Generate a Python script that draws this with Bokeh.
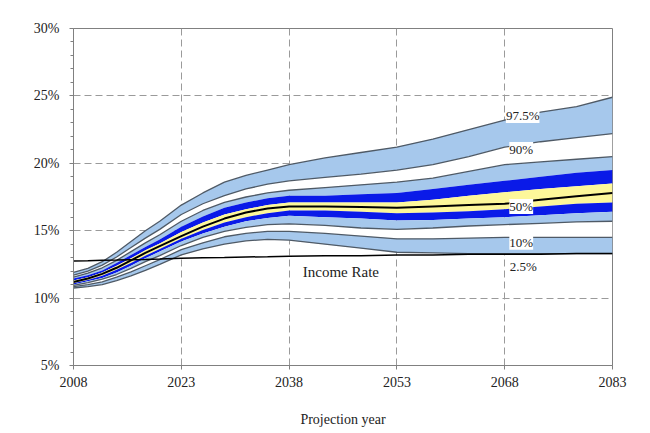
from bokeh.plotting import figure
from bokeh.models import Range1d, FixedTicker, Label
from bokeh.embed import file_html
from bokeh.resources import INLINE

# ---- data (percent of taxable payroll) ----
years = [2008, 2010, 2012, 2014, 2016, 2018, 2020, 2023, 2026, 2029, 2032, 2035, 2038,
         2043, 2048, 2053, 2058, 2063, 2068, 2073, 2078, 2083]
p975 = [11.9, 12.2, 12.7, 13.4, 14.2, 15.0, 15.7, 16.9, 17.8, 18.6, 19.1, 19.5, 19.9,
        20.4, 20.8, 21.2, 21.8, 22.5, 23.2, 23.8, 24.2, 24.9]
p90 = [11.7, 12.0, 12.45, 13.05, 13.75, 14.45, 15.1, 16.2, 17.0, 17.6, 18.1, 18.45, 18.7,
       18.95, 19.2, 19.5, 19.9, 20.5, 21.2, 21.6, 21.9, 22.2]
p80 = [11.55, 11.85, 12.25, 12.8, 13.45, 14.1, 14.7, 15.7, 16.5, 17.1, 17.5, 17.8, 18.0,
       18.2, 18.4, 18.6, 18.9, 19.4, 19.9, 20.1, 20.3, 20.5]
p70 = [11.45, 11.7, 12.05, 12.6, 13.2, 13.8, 14.35, 15.3, 16.05, 16.7, 17.1, 17.4, 17.6,
       17.6, 17.7, 17.8, 18.1, 18.4, 18.7, 19.0, 19.3, 19.5]
p60 = [11.3, 11.55, 11.9, 12.4, 12.95, 13.55, 14.05, 14.9, 15.6, 16.2, 16.6, 16.9, 17.1,
       17.1, 17.1, 17.1, 17.3, 17.6, 17.85, 18.1, 18.3, 18.5]
p50 = [11.2, 11.45, 11.8, 12.25, 12.8, 13.35, 13.85, 14.6, 15.3, 15.9, 16.35, 16.65, 16.8,
       16.8, 16.75, 16.7, 16.8, 16.9, 17.0, 17.3, 17.55, 17.8]
p40 = [11.1, 11.35, 11.65, 12.1, 12.6, 13.15, 13.65, 14.4, 15.05, 15.6, 16.0, 16.3, 16.5,
       16.5, 16.4, 16.3, 16.35, 16.45, 16.6, 16.8, 17.0, 17.1]
p30 = [11.0, 11.25, 11.5, 11.9, 12.4, 12.95, 13.45, 14.2, 14.8, 15.3, 15.7, 15.95, 16.1,
       16.0, 15.9, 15.75, 15.8, 15.9, 16.0, 16.15, 16.3, 16.4]
p20 = [10.95, 11.15, 11.4, 11.75, 12.2, 12.7, 13.15, 13.9, 14.5, 14.95, 15.25, 15.45, 15.5,
       15.4, 15.2, 15.1, 15.2, 15.35, 15.45, 15.55, 15.65, 15.7]
p10 = [10.85, 11.0, 11.2, 11.55, 11.95, 12.4, 12.85, 13.6, 14.1, 14.55, 14.8, 14.95, 14.95,
       14.8, 14.6, 14.4, 14.4, 14.45, 14.5, 14.5, 14.5, 14.5]
p025 = [10.75, 10.85, 11.0, 11.3, 11.65, 12.05, 12.5, 13.2, 13.65, 14.0, 14.25, 14.35, 14.3,
        14.0, 13.7, 13.4, 13.35, 13.3, 13.3, 13.3, 13.3, 13.3]
income_rate = [12.75, 12.77, 12.8, 12.82, 12.85, 12.87, 12.9, 12.95, 13.0, 13.02, 13.05, 13.07, 13.1,
               13.15, 13.15, 13.2, 13.2, 13.25, 13.25, 13.25, 13.3, 13.3]

x_ticks = [2008, 2023, 2038, 2053, 2068, 2083]
y_ticks = [5, 10, 15, 20, 25, 30]
y_tick_labels = ["5%", "10%", "15%", "20%", "25%", "30%"]
band_labels = ["97.5%", "90%", "50%", "10%", "2.5%"]

# ---- styling ----
FONT = "Liberation Serif"
LIGHT = "#a6c8ec"
BLUE = "#0a1ae8"
YELLOW = "#fdf79a"
EDGE = "#4f5a66"

p = figure(width=645, height=430, output_backend="svg", toolbar_location=None,
           x_range=Range1d(2008, 2083), y_range=Range1d(5, 30),
           min_border_left=73, min_border_right=33, min_border_top=28, min_border_bottom=65)
p.background_fill_color = "white"
p.border_fill_color = "white"
p.outline_line_color = "#808080"
p.outline_line_width = 1

# bands
p.varea(x=years, y1=p90, y2=p975, fill_color=LIGHT)
p.varea(x=years, y1=p80, y2=p90, fill_color="white")
p.varea(x=years, y1=p70, y2=p80, fill_color=LIGHT)
p.varea(x=years, y1=p60, y2=p70, fill_color=BLUE)
p.varea(x=years, y1=p40, y2=p60, fill_color=YELLOW)
p.varea(x=years, y1=p30, y2=p40, fill_color=BLUE)
p.varea(x=years, y1=p20, y2=p30, fill_color=LIGHT)
p.varea(x=years, y1=p10, y2=p20, fill_color="white")
p.varea(x=years, y1=p025, y2=p10, fill_color=LIGHT)

for s in (p975, p90, p80, p20, p10, p025):
    p.line(years, s, line_color=EDGE, line_width=1.3)
p.line(years, p50, line_color="black", line_width=2)
p.line(years, income_rate, line_color="black", line_width=1.5)

# axes
xt = FixedTicker(ticks=x_ticks)
yt = FixedTicker(ticks=y_ticks, minor_ticks=[v for v in range(5, 31) if v % 5 != 0])
p.xaxis.ticker = xt
p.yaxis.ticker = yt
p.xgrid.ticker = xt
p.ygrid.ticker = FixedTicker(ticks=y_ticks)
p.yaxis.major_label_overrides = {t: l for t, l in zip(y_ticks, y_tick_labels)}
p.xaxis.major_label_overrides = {t: str(t) for t in x_ticks}

for g in (p.xgrid, p.ygrid):
    g.grid_line_color = "#9a9a9a"
    g.grid_line_dash = "7 4"
    g.grid_line_width = 1

for ax in (p.xaxis, p.yaxis):
    ax.axis_line_color = "#808080"
    ax.major_tick_line_color = "#808080"
    ax.minor_tick_line_color = "#808080"
    ax.major_tick_out = 4
    ax.major_tick_in = 0
    ax.minor_tick_out = 3
    ax.minor_tick_in = 0
    ax.major_label_text_font = FONT
    ax.major_label_text_font_size = "14px"
    ax.major_label_text_color = "#222222"
    ax.axis_label_text_font = FONT
    ax.axis_label_text_font_style = "normal"
    ax.axis_label_text_font_size = "14px"
    ax.axis_label_text_color = "#222222"
p.xaxis.minor_tick_line_color = None
p.yaxis.major_label_standoff = 10
p.xaxis.major_label_standoff = 7
p.xaxis.axis_label = "Projection year"
p.xaxis.axis_label_standoff = 22

# band labels
label_x = [2070.5, 2070.3, 2070.3, 2070.3, 2070.6]
label_y = [23.55, 21.02, 16.8, 14.15, 12.37]
for t, lx, ly in zip(band_labels, label_x, label_y):
    p.add_layout(Label(x=lx, y=ly, text=t, text_font=FONT, text_font_size="13px",
                       text_align="center", text_baseline="middle", text_color="#222222",
                       background_fill_color="white", background_fill_alpha=1.0))

p.add_layout(Label(x=2045.2, y=11.9, text="Income Rate", text_font=FONT, text_font_size="15px",
                   text_align="center", text_baseline="middle", text_color="#222222"))

open("out.html", "w").write(file_html(p, INLINE))
